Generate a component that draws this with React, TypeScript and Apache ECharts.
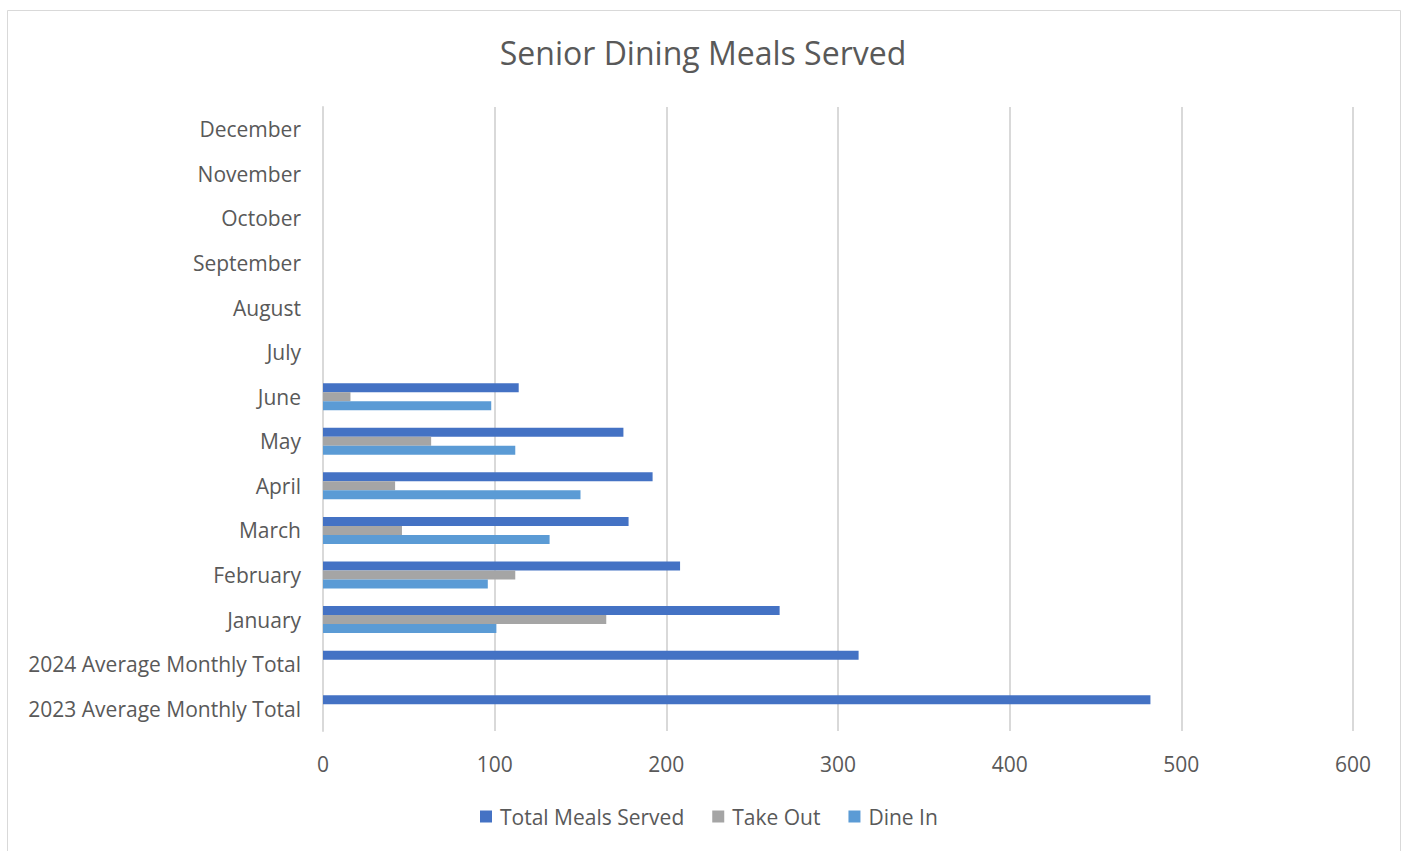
import React, { useEffect, useRef } from "react";
import * as echarts from "echarts";

const categories = [
  "2023 Average Monthly Total",
  "2024 Average Monthly Total",
  "January",
  "February",
  "March",
  "April",
  "May",
  "June",
  "July",
  "August",
  "September",
  "October",
  "November",
  "December",
];
const totalMeals = [482, 312, 266, 208, 178, 192, 175, 114, null, null, null, null, null, null];
const takeOut = [null, null, 165, 112, 46, 42, 63, 16, null, null, null, null, null, null];
const dineIn = [null, null, 101, 96, 132, 150, 112, 98, null, null, null, null, null, null];
const xTicks = { min: 0, max: 600, interval: 100 };

const FONT = "'Open Sans', 'Noto Sans', sans-serif";
const TXT = "#595959";

export default function App() {
  const ref = useRef<HTMLDivElement>(null);
  useEffect(() => {
    if (!ref.current) return;
    const chart = echarts.init(ref.current, undefined, { renderer: "svg" });
    chart.setOption({
      animation: false,
      backgroundColor: "#ffffff",
      textStyle: { fontFamily: FONT },
      title: {
        text: "Senior Dining Meals Served",
        left: "center",
        top: 31,
        textStyle: { fontFamily: FONT, fontSize: 32, fontWeight: "normal", color: TXT },
      },
      graphic: [
        {
          type: "rect",
          shape: { x: 7.5, y: 10.5, width: 1393, height: 850 },
          style: { fill: "none", stroke: "#d9d9d9", lineWidth: 1 },
          silent: true,
        },
      ],
      legend: {
        data: ["Total Meals Served", "Take Out", "Dine In"],
        left: 475,
        top: 801,
        itemWidth: 12,
        itemHeight: 12,
        itemGap: 28,
        icon: "rect",
        textStyle: { fontFamily: FONT, fontSize: 21, color: TXT, padding: [0, 0, 0, 3] },
      },
      grid: { left: 323, right: 53, top: 107, bottom: 120, containLabel: false },
      xAxis: {
        type: "value",
        min: xTicks.min,
        max: xTicks.max,
        interval: xTicks.interval,
        axisLine: { show: false },
        axisTick: { show: false },
        axisLabel: { fontFamily: FONT, fontSize: 21, color: TXT, margin: 22 },
        splitLine: { lineStyle: { color: "#d9d9d9", width: 2 } },
      },
      yAxis: {
        type: "category",
        data: categories,
        axisLine: { show: true, lineStyle: { color: "#d9d9d9", width: 2 } },
        axisTick: { show: false },
        axisLabel: { fontFamily: FONT, fontSize: 21, color: TXT, margin: 22 },
      },
      series: [
        {
          name: "Total Meals Served",
          type: "bar",
          data: totalMeals,
          barWidth: 9,
          barGap: "0%",
          itemStyle: { color: "#4472C4" },
        },
        {
          name: "Take Out",
          type: "bar",
          data: takeOut,
          barWidth: 9,
          barGap: "0%",
          itemStyle: { color: "#A5A5A5" },
        },
        {
          name: "Dine In",
          type: "bar",
          data: dineIn,
          barWidth: 9,
          barGap: "0%",
          itemStyle: { color: "#5B9BD5" },
        },
      ],
    });
    return () => chart.dispose();
  }, []);
  return (
    <div
      ref={ref}
      style={{ position: "fixed", left: 0, top: 0, width: 1406, height: 851 }}
    />
  );
}
